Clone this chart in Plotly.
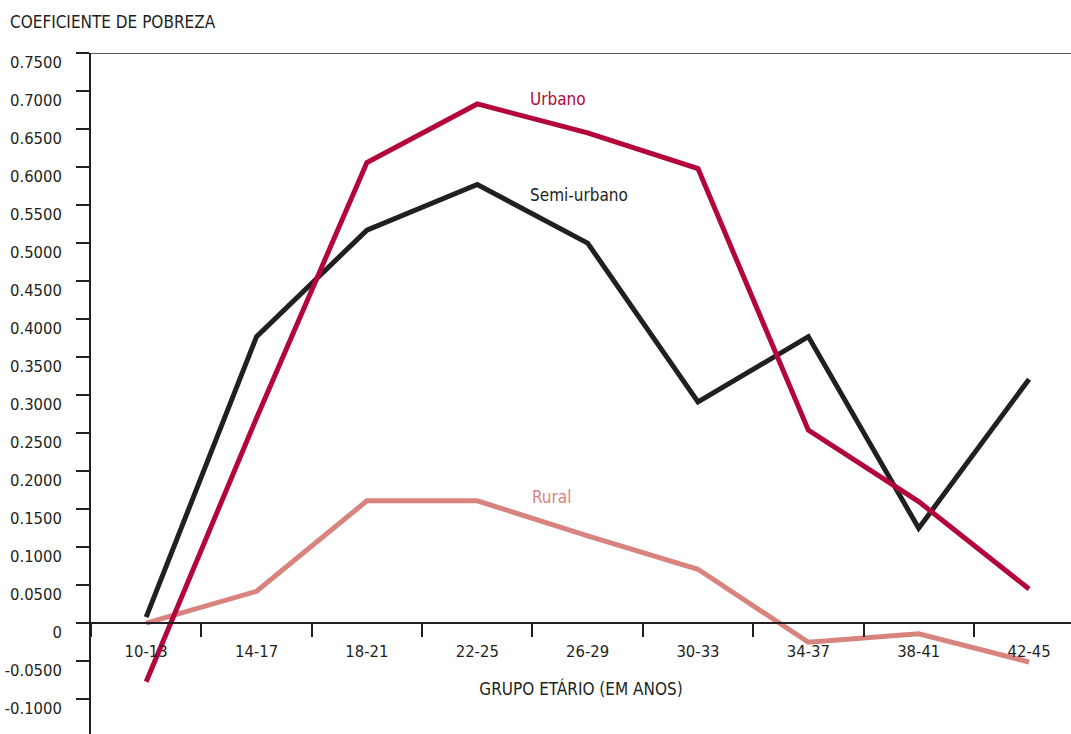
import plotly.graph_objects as go

categories = ["10-13", "14-17", "18-21", "22-25", "26-29", "30-33", "34-37", "38-41", "42-45"]
urbano = [-0.077, 0.27, 0.606, 0.683, 0.645, 0.598, 0.254, 0.160, 0.045]
semi_urbano = [0.008, 0.377, 0.517, 0.577, 0.500, 0.291, 0.377, 0.125, 0.321]
rural = [0.000, 0.042, 0.161, 0.161, 0.115, 0.071, -0.025, -0.014, -0.051]

ytick_vals = [-0.1, -0.05, 0, 0.05, 0.1, 0.15, 0.2, 0.25, 0.3, 0.35, 0.4, 0.45, 0.5, 0.55, 0.6, 0.65, 0.7, 0.75]
ytick_text = ["-0.1000", "-0.0500", "0", "0.0500", "0.1000", "0.1500", "0.2000", "0.2500", "0.3000",
              "0.3500", "0.4000", "0.4500", "0.5000", "0.5500", "0.6000", "0.6500", "0.7000", "0.7500"]

C_URB = "#B3063B"
C_SEMI = "#231F20"
C_RUR = "#D9837F"
FONT = "DejaVu Sans Condensed, Liberation Sans Narrow, Roboto Condensed, Arial Narrow, sans-serif"
TXT = "#231F20"

YMIN, YMAX = -0.1457, 0.75

fig = go.Figure()
for name, vals, col in [("Rural", rural, C_RUR), ("Semi-urbano", semi_urbano, C_SEMI), ("Urbano", urbano, C_URB)]:
    fig.add_trace(go.Scatter(x=categories, y=vals, mode="lines", name=name,
                             line=dict(color=col, width=5), showlegend=False))

fig.add_annotation(x=3.735, y=0.690, xref="x", yref="y", text="Urbano", showarrow=False,
                   font=dict(family=FONT, size=17, color=C_URB))
fig.add_annotation(x=3.926, y=0.5636, xref="x", yref="y", text="Semi-urbano", showarrow=False,
                   font=dict(family=FONT, size=17, color=TXT))
fig.add_annotation(x=3.672, y=0.166, xref="x", yref="y", text="Rural", showarrow=False,
                   font=dict(family=FONT, size=17, color=C_RUR))

fig.add_shape(type="line", xref="paper", yref="y", x0=0, x1=1, y0=0.75, y1=0.75,
              line=dict(color=TXT, width=1.5))

fig.update_layout(
    width=1071, height=734,
    margin=dict(l=91, r=0, t=53, b=0),
    paper_bgcolor="white", plot_bgcolor="white",
    font=dict(family=FONT, size=17, color=TXT),
    title=dict(text="COEFICIENTE DE POBREZA", xref="container", yref="container",
               x=10 / 1071, xanchor="left", y=1 - 22 / 734, yanchor="middle",
               font=dict(family=FONT, size=17, color=TXT)),
    xaxis=dict(type="category", categoryorder="array", categoryarray=categories,
               range=[-0.5, 8.38], anchor="free", position=(0 - YMIN) / (YMAX - YMIN),
               automargin=False,
               showline=True, linecolor=TXT, linewidth=1.5,
               ticks="outside", tickson="boundaries", ticklen=13, tickwidth=1.5, tickcolor=TXT,
               showgrid=False, zeroline=False, ticklabelstandoff=13,
               tickfont=dict(family=FONT, size=16.5, color=TXT),
               title=dict(text="GRUPO ETÁRIO (EM ANOS)", standoff=22,
                          font=dict(family=FONT, size=17, color=TXT))),
    yaxis=dict(range=[YMIN, YMAX], tickvals=ytick_vals, ticktext=ytick_text,
               automargin=False,
               showline=True, linecolor=TXT, linewidth=1.5,
               ticks="outside", ticklen=13, tickwidth=1.5, tickcolor=TXT,
               showgrid=False, zeroline=False,
               ticklabelshift=9, ticklabelstandoff=11,
               tickfont=dict(family=FONT, size=16.5, color=TXT)),
)

fig.write_html("out.html", config={"displayModeBar": False},
               post_script="document.body.style.margin='0';document.body.style.overflow='hidden';")
